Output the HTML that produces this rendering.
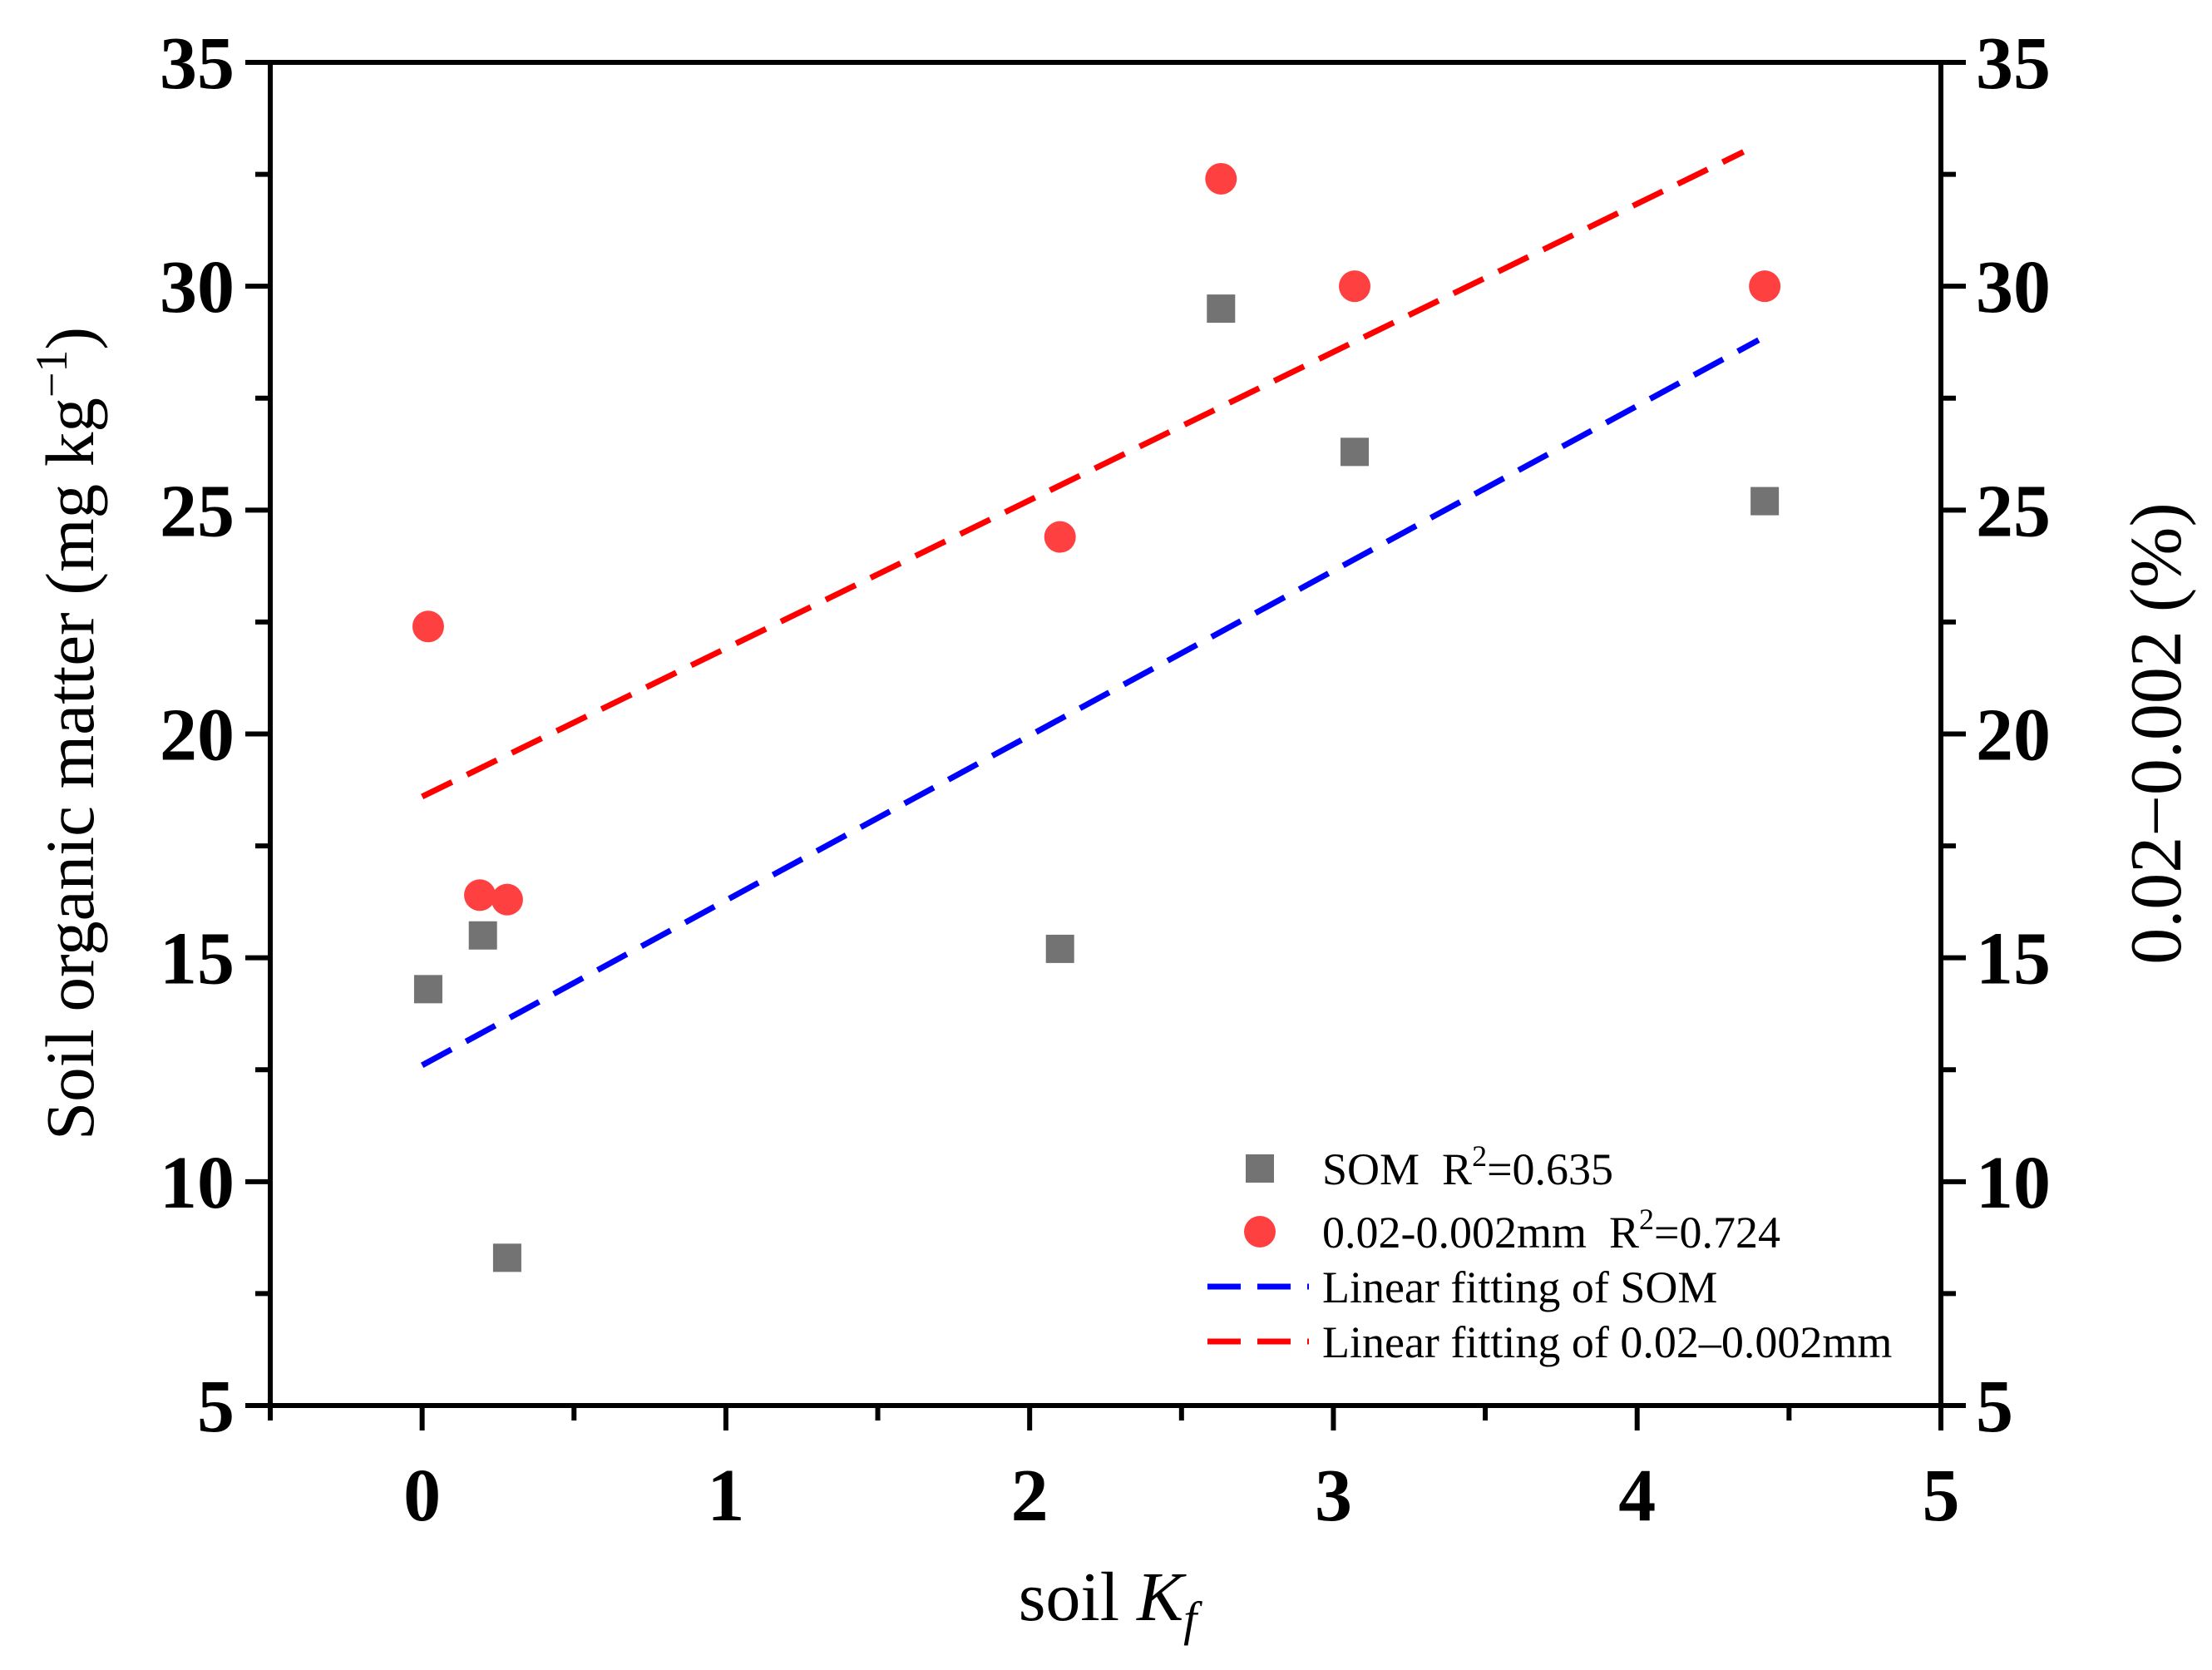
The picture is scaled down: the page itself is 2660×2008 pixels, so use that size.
<!DOCTYPE html>
<html><head><meta charset="utf-8"><style>
body{margin:0;background:#fff}
svg{display:block;font-family:"Liberation Serif",serif}
</style></head><body>
<svg id="chart" width="2660" height="2008" viewBox="0 0 2660 2008">
<g id="axes"></g><g id="marks"></g>
<text transform="translate(112,882) rotate(-90)" text-anchor="middle" font-size="83">Soil organic matter (mg kg<tspan dy="-32" font-size="54">−1</tspan><tspan dy="32">)</tspan></text>
<text transform="translate(2622,882) rotate(-90)" text-anchor="middle" font-size="88">0.02−0.002 (%)</text>
<text x="1332" y="1948" text-anchor="middle" font-size="84">soil <tspan font-style="italic">K</tspan><tspan font-style="italic" font-size="58" dy="18">f</tspan></text>
<g font-size="54">
<rect x="1498" y="1388" width="34" height="34" fill="#737373"/>
<text x="1590" y="1424">SOM&#160; R<tspan dy="-22" font-size="36">2</tspan><tspan dy="22">=0.635</tspan></text>
<circle cx="1515" cy="1481" r="19" fill="#ff4040"/>
<text x="1590" y="1500">0.02-0.002mm&#160; R<tspan dy="-22" font-size="36">2</tspan><tspan dy="22">=0.724</tspan></text>
<line x1="1452" y1="1547" x2="1574" y2="1547" stroke="#0000ff" stroke-width="7" stroke-dasharray="40 20"/>
<text x="1590" y="1566">Linear fitting of SOM</text>
<line x1="1452" y1="1613" x2="1574" y2="1613" stroke="#ff0000" stroke-width="7" stroke-dasharray="40 20"/>
<text x="1590" y="1632">Linear fitting of 0.02–0.002mm</text>
</g>
</svg>
<script>
const somX=[0.02,0.2,0.28,2.1,2.63,3.07,4.42];
const somY=[14.3,15.5,8.3,15.2,29.5,26.3,25.2];
const clayX=[0.02,0.19,0.28,2.1,2.63,3.07,4.42];
const clayY=[22.4,16.4,16.3,24.4,32.4,30.0,30.0];
const somFitX=[0,4.4];
const somFitY=[12.6,28.8];
const clayFitX=[0,4.35];
const clayFitY=[18.6,33.0];
const xTicks=[0,1,2,3,4,5];
const yTicks=[5,10,15,20,25,30,35];

const NS="http://www.w3.org/2000/svg";
const L=325,R=2334,T=75,B=1690;
const xs=v=>L+(v+0.5)/5.5*(R-L);
const ys=v=>B-(v-5)/30*(B-T);
const axes=document.getElementById('axes'),marks=document.getElementById('marks');
function mk(tag,attrs,parent){const e=document.createElementNS(NS,tag);for(const k in attrs)e.setAttribute(k,attrs[k]);parent.appendChild(e);return e;}
let e;
e=mk('rect',{x:L,y:T,width:R-L,height:B-T,fill:'none',stroke:'#000','stroke-width':6},axes);


for(let v=-0.5;v<=5.001;v+=0.5){
  const major=Math.abs(v-Math.round(v))<1e-6&&v>=0;
  e=mk('line',{x1:xs(v),x2:xs(v),y1:B,y2:B+(major?30:18),stroke:'#000','stroke-width':6},axes);
  
  
}
xTicks.forEach(v=>{
  e=mk('text',{x:xs(v),y:1828,'text-anchor':'middle','font-size':90,'font-weight':'bold'},axes);
  e.textContent=v;
  
  
});
for(let v=5;v<=35.001;v+=2.5){
  const major=Math.abs(v%5)<1e-6;
  const len=major?30:18;
  e=mk('line',{x1:L-len,x2:L,y1:ys(v),y2:ys(v),stroke:'#000','stroke-width':6},axes);
  
  
  e=mk('line',{x1:R,x2:R+len,y1:ys(v),y2:ys(v),stroke:'#000','stroke-width':6},axes);
  
  
}
yTicks.forEach(v=>{
  e=mk('text',{x:282,y:ys(v)+31,'text-anchor':'end','font-size':90,'font-weight':'bold'},axes);
  e.textContent=v;
  
  
  e=mk('text',{x:2376,y:ys(v)+31,'text-anchor':'start','font-size':90,'font-weight':'bold'},axes);
  e.textContent=v;
  
  
});
e=mk('line',{x1:xs(somFitX[0]),y1:ys(somFitY[0]),x2:xs(somFitX[1]),y2:ys(somFitY[1]),stroke:'#0000ff','stroke-width':7,'stroke-dasharray':'40 20'},marks);


e=mk('line',{x1:xs(clayFitX[0]),y1:ys(clayFitY[0]),x2:xs(clayFitX[1]),y2:ys(clayFitY[1]),stroke:'#ff0000','stroke-width':7,'stroke-dasharray':'40 20'},marks);


somX.forEach((x,i)=>{
  e=mk('rect',{x:xs(x)-17,y:ys(somY[i])-17,width:34,height:34,fill:'#737373'},marks);
  
  
});
clayX.forEach((x,i)=>{
  e=mk('circle',{cx:xs(x),cy:ys(clayY[i]),r:19,fill:'#ff4040'},marks);
  
  
});
</script>
</body></html>
